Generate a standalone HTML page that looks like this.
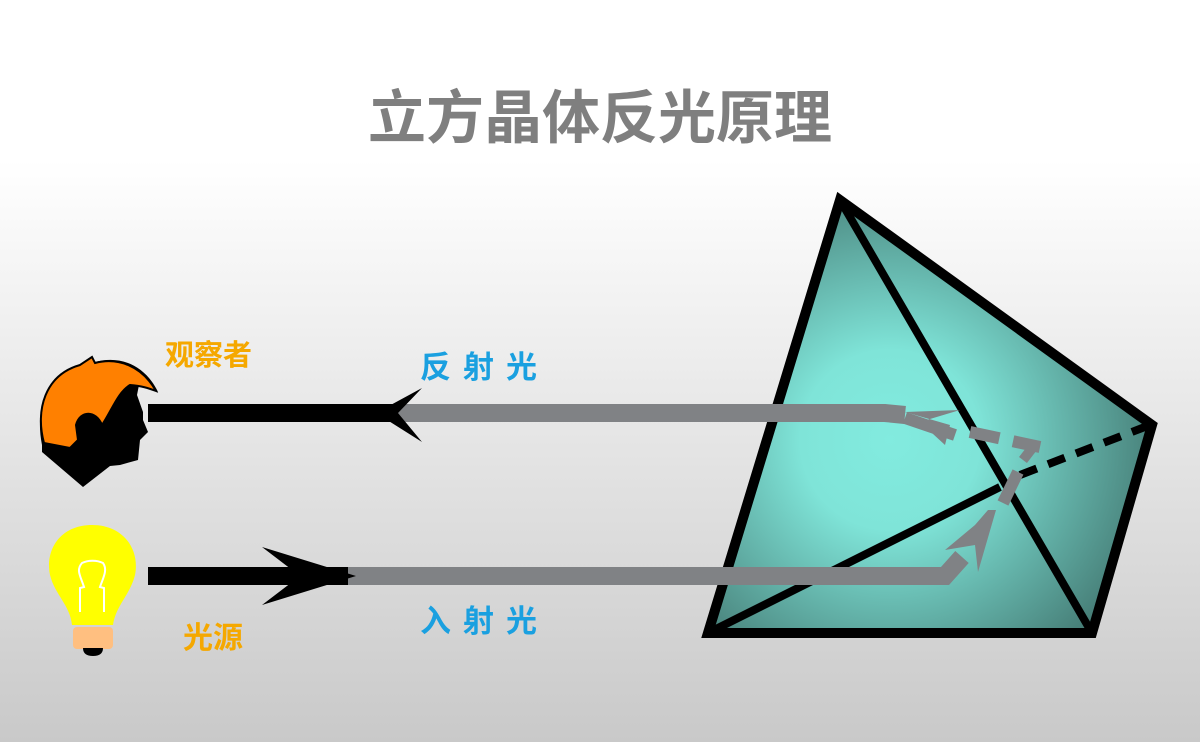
<!DOCTYPE html>
<html><head><meta charset="utf-8"><style>
html,body{margin:0;padding:0;}
body{width:1200px;height:742px;overflow:hidden;background:linear-gradient(#fff 0px,#fff 160px,#c9c9c9 742px);}
svg{position:absolute;left:0;top:0;}
text{font-family:"Liberation Sans","Noto Sans CJK SC",sans-serif;font-weight:bold;}
</style></head><body>
<svg width="1200" height="742" viewBox="0 0 1200 742">
<defs>
<radialGradient id="g" cx="890" cy="440" r="300" gradientUnits="userSpaceOnUse">
<stop offset="0" stop-color="#82ebdf"/><stop offset="0.3" stop-color="#7fe4d8"/><stop offset="1" stop-color="#3d6d67"/>
</radialGradient>
</defs>
<text x="600" y="138" font-size="58" fill="#7f7f7f" text-anchor="middle">立方晶体反光原理</text>
<polygon points="840,200 1152,425 1092,633 708,633" fill="url(#g)" stroke="#000" stroke-width="10" stroke-linejoin="miter"/>
<line x1="840" y1="200" x2="1092" y2="633" stroke="#000" stroke-width="8"/>
<line x1="708" y1="633" x2="1000" y2="487" stroke="#000" stroke-width="8"/>
<line x1="1020" y1="475" x2="1150" y2="425" stroke="#000" stroke-width="8" stroke-dasharray="18,12"/>
<polyline points="395,413 885,413 905,415" fill="none" stroke="#808285" stroke-width="18"/>
<line x1="905" y1="418" x2="955" y2="435" stroke="#808285" stroke-width="12"/>
<line x1="970" y1="432" x2="1040" y2="447" stroke="#808285" stroke-width="12" stroke-dasharray="30,14"/>
<polygon points="960,410 905,412 950,425 945,445 920,422" fill="#808285"/>
<line x1="1033" y1="447" x2="1023" y2="460" stroke="#808285" stroke-width="10"/>
<line x1="1018" y1="472" x2="1003" y2="503" stroke="#808285" stroke-width="12"/>
<polyline points="345,576 945,576 962,557" fill="none" stroke="#808285" stroke-width="18"/>
<polygon points="996,510 978,572 975,545 945,550 975,525 988,510" fill="#808285"/>
<rect x="148" y="404" width="250" height="18" fill="#000"/>
<polygon points="376,413 422,388 398,413 422,442" fill="#000"/>
<rect x="148" y="567" width="200" height="18" fill="#000"/>
<polygon points="356,576 262,547 300,576 262,605" fill="#000"/>
<path d="M42,445 C35,410 45,375 80,365 L92,356 L95,362 C120,355 145,365 158,392 L145,385 L140,380 L137,395 L143,412 L143,420 L148,432 L140,440 L138,460 L120,465 L110,466 L83,487 L42,452 Z" fill="#000"/>
<path d="M44,443 C35,410 45,375 80,365 L92,357 L95,363 C118,357 142,366 156,391 C148,388 142,386 130,385 C118,392 112,410 102,425 C96,410 80,410 76,425 L78,440 L70,448 Z" fill="#ff8000" stroke="#000" stroke-width="2"/>
<path d="M92,525 C60,525 45,550 50,575 C55,595 70,605 72,625 L113,625 C116,605 130,595 135,575 C140,550 124,525 92,525 Z" fill="#ffff00"/>
<path d="M80,612 L80,588 L84,587 C80,575 76,570 82,563 C88,560 97,560 103,563 C108,570 103,578 100,587 L104,588 L104,612" fill="none" stroke="#fff" stroke-width="2"/>
<rect x="73" y="627" width="40" height="22" rx="4" fill="#ffbf80"/>
<path d="M83,648 L103,648 Q103,656 93,656 Q83,656 83,648 Z" fill="#000"/>
<text x="165" y="365" font-size="29" fill="#f5a800">观察者</text>
<text x="420" y="378" font-size="31" fill="#1aa0e0" letter-spacing="12">反射光</text>
<text x="420" y="632" font-size="31" fill="#1aa0e0" letter-spacing="12">入射光</text>
<text x="183" y="648" font-size="30" fill="#f5a800">光源</text>
</svg>
</body></html>
